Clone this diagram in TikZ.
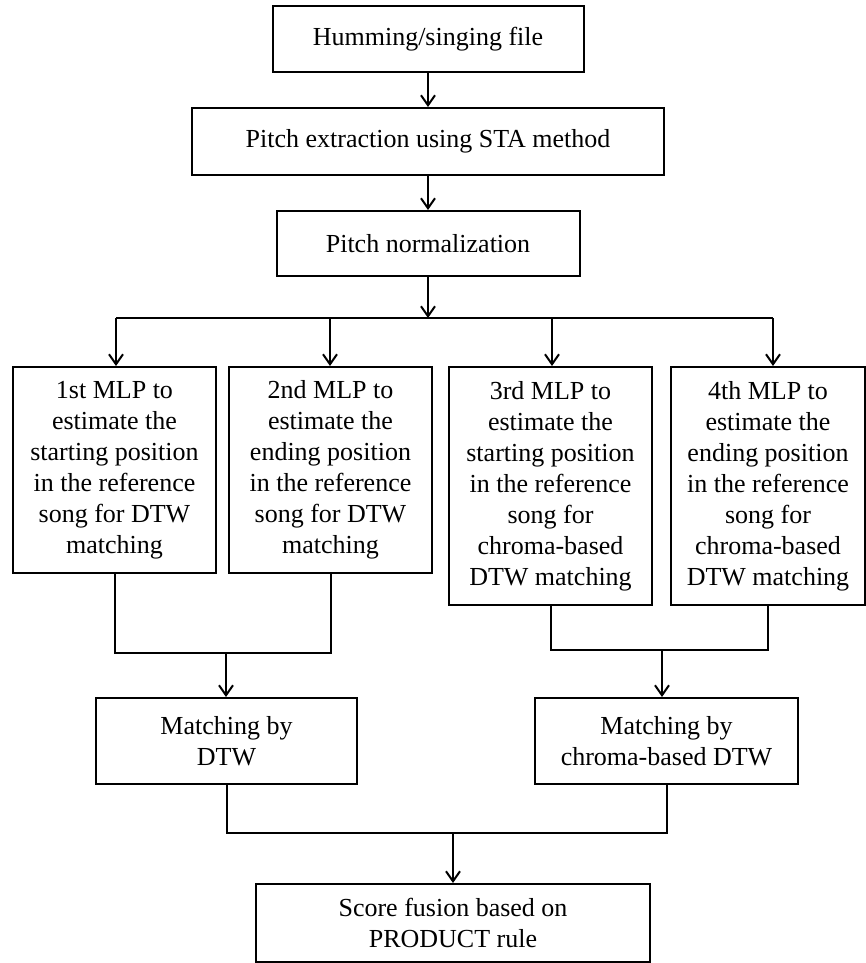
\documentclass[tikz,border=0pt]{standalone}
\usepackage{fontspec}
\setmainfont{Liberation Serif}
\usetikzlibrary{arrows.meta}
\begin{document}
\begin{tikzpicture}[x=1pt,y=-1pt,
  box/.style={draw,line width=2pt,inner sep=0pt,align=center,
    font=\fontsize{26}{31}\selectfont},
  conn/.style={line width=2pt},
  arr/.style={line width=2pt,-{Straight Barb[length=10pt,width=14pt]}}]
\useasboundingbox (0,0) rectangle (866,963);
% boxes
\node[box,minimum width=311pt,minimum height=66pt] (h1) at (428,39) {Humming/singing file};
\node[box,minimum width=472pt,minimum height=67pt] (h2) at (428,141.5) {Pitch extraction using STA method};
\node[box,minimum width=303pt,minimum height=65pt] (h3) at (428,243.5) {Pitch normalization};
\node[box,minimum width=203pt,minimum height=206pt] (A) at (114.5,470) {1st MLP to\\estimate the\\starting position\\in the reference\\song for DTW\\matching};
\node[box,minimum width=203pt,minimum height=206pt] (B) at (330.5,470) {2nd MLP to\\estimate the\\ending position\\in the reference\\song for DTW\\matching};
\node[box,minimum width=203pt,minimum height=238pt] (C) at (550.5,486) {3rd MLP to\\estimate the\\starting position\\in the reference\\song for\\chroma-based\\DTW matching};
\node[box,minimum width=194pt,minimum height=238pt] (D) at (768,486) {4th MLP to\\estimate the\\ending position\\in the reference\\song for\\chroma-based\\DTW matching};
\node[box,minimum width=261pt,minimum height=86pt] (M1) at (226.5,741) {Matching by\\DTW};
\node[box,minimum width=263pt,minimum height=86pt] (M2) at (666.5,741) {Matching by\\chroma-based DTW};
\node[box,minimum width=394pt,minimum height=78pt] (S) at (453,923) {Score fusion based on\\PRODUCT rule};
% coordinates
\coordinate (br) at (428,318);
\coordinate (bA) at (116,318);
\coordinate (bB) at (330,318);
\coordinate (bC) at (552,318);
\coordinate (bD) at (773,318);
\coordinate (m1) at (226,653);
\coordinate (m2) at (662,650);
\coordinate (m3) at (453,833);
% connectors
\draw[arr] (h1) -- (h2);
\draw[arr] (h2) -- (h3);
\draw[arr] (h3) -- (br);
\draw[conn] (bA) -- (bD);
\draw[arr] (bA) -- (bA |- A.north);
\draw[arr] (bB) -- (bB |- B.north);
\draw[arr] (bC) -- (bC |- C.north);
\draw[arr] (bD) -- (bD |- D.north);
\draw[conn] (A.south) |- (m1) -| (B.south);
\draw[arr] (m1) -- (m1 |- M1.north);
\draw[conn] (C.south) |- (m2) -| (D.south);
\draw[arr] (m2) -- (m2 |- M2.north);
\draw[conn] (M1.south) |- (m3) -| (M2.south);
\draw[arr] (m3) -- (S.north);
\end{tikzpicture}
\end{document}
